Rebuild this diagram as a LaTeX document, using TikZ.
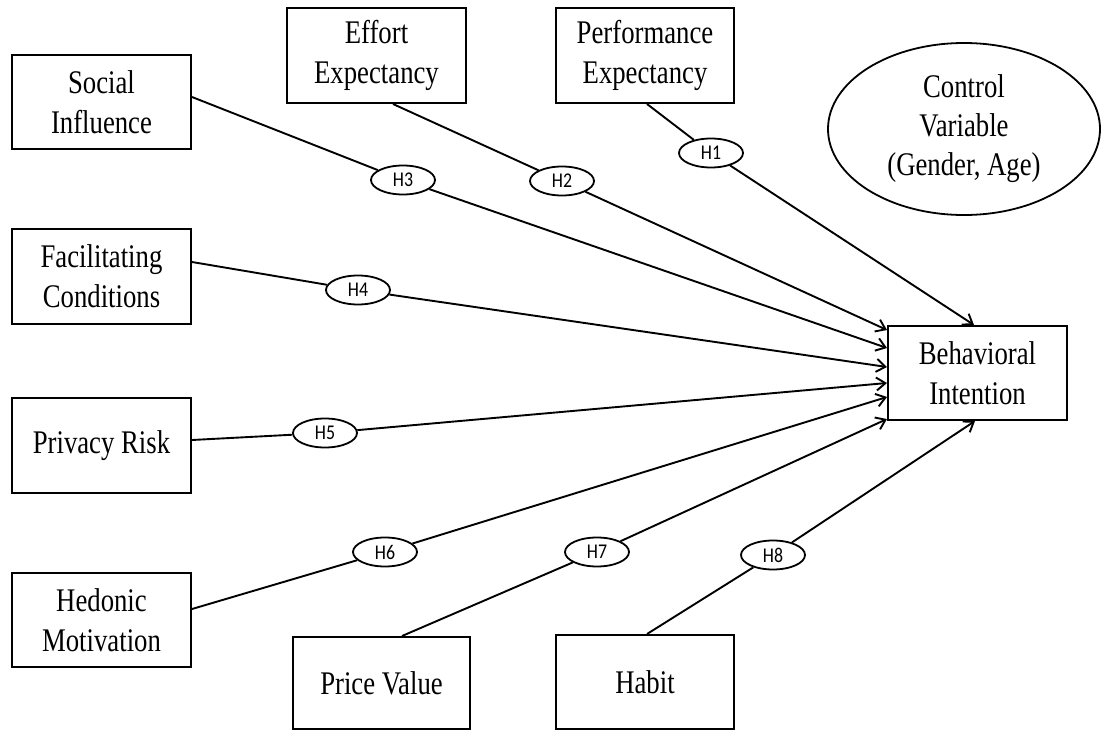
\documentclass[tikz,border=0pt]{standalone}
\usepackage{fontspec}
\setmainfont{Liberation Serif}[FakeStretch=0.81]
\newfontfamily\hypfont{Carlito}[FakeStretch=0.85]
\usetikzlibrary{shapes.geometric,arrows.meta}
\tikzset{
  construct/.style={draw=black, line width=2pt, rectangle, minimum width=179pt,
    minimum height=94pt, inner sep=0pt, align=center,
    font=\fontsize{33}{40}\selectfont},
  hyp/.style={draw=black, line width=1.8pt, ellipse, minimum width=64pt,
    minimum height=29pt, inner sep=0pt, font=\hypfont\fontsize{21}{21}\selectfont},
  control/.style={draw=black, line width=1.8pt, ellipse, minimum width=272pt,
    minimum height=172pt, inner sep=0pt, align=center,
    font=\fontsize{33}{39}\selectfont},
  link/.style={draw=black, line width=1.9pt},
  arrowlink/.style={link, -{Straight Barb[length=9pt,width=13pt,line width=1.9pt]}}
}
\begin{document}
\begin{tikzpicture}[x=1pt, y=-1pt]
\useasboundingbox (0,0) rectangle (1101,731);
\fill[white] (0,0) rectangle (1101,731);

% constructs
\node[construct] (SI) at (101.5,102) {Social\\Influence};
\node[construct, minimum height=95pt] (FC) at (101.5,276.5) {Facilitating\\Conditions};
\node[construct, minimum height=95pt] (PR) at (101.5,445.5) {Privacy Risk};
\node[construct] (HM) at (101.5,620) {Hedonic\\Motivation};
\node[construct, minimum height=95pt] (EE) at (376.5,55.5) {Effort\\Expectancy};
\node[construct, minimum width=178pt, minimum height=95pt] (PE) at (645,55.5) {Performance\\Expectancy};
\node[construct, minimum width=177pt, minimum height=92pt] (PV) at (381.5,683) {Price Value};
\node[construct, minimum width=178pt] (HB) at (645,682) {Habit};
\node[construct] (BI) at (977.5,373) {Behavioral\\Intention};
\node[control] (CV) at (964,129) {Control\\Variable\\(Gender, Age)};

% hypothesis labels
\node[hyp] (H1) at (711,153) {H1};
\node[hyp] (H2) at (562,181) {H2};
\node[hyp] (H3) at (403,180) {H3};
\node[hyp] (H4) at (358,290) {H4};
\node[hyp] (H5) at (325,433) {H5};
\node[hyp] (H6) at (385,552) {H6};
\node[hyp] (H7) at (597,552) {H7};
\node[hyp] (H8) at (773,555) {H8};

% paths from each construct to Behavioral Intention
\draw[link] ([xshift=2pt]PE.south) -- (H1);
\draw[arrowlink] (H1) -- ([xshift=-3.5pt]BI.north);

\draw[link] ([xshift=16.5pt]EE.south) -- (H2);
\draw[arrowlink] (H2) -- ([yshift=43pt]BI.west);

\draw[link] ([yshift=5pt]SI.east) -- (H3);
\draw[arrowlink] (H3) -- ([yshift=25pt]BI.west);

\draw[link] ([yshift=14.5pt]FC.east) -- (H4);
\draw[arrowlink] (H4) -- ([yshift=6pt]BI.west);

\draw[link] ([yshift=5.5pt]PR.east) -- (H5);
\draw[arrowlink] (H5) -- ([yshift=-10pt]BI.west);

\draw[link] ([yshift=11pt]HM.east) -- (H6);
\draw[arrowlink] (H6) -- ([yshift=-24pt]BI.west);

\draw[link] ([xshift=20.5pt]PV.north) -- (H7);
\draw[arrowlink] (H7) -- ([yshift=-46pt]BI.west);

\draw[link] ([xshift=2pt]HB.north) -- (H8);
\draw[arrowlink] (H8) -- ([xshift=-2.5pt]BI.south);
\end{tikzpicture}
\end{document}
